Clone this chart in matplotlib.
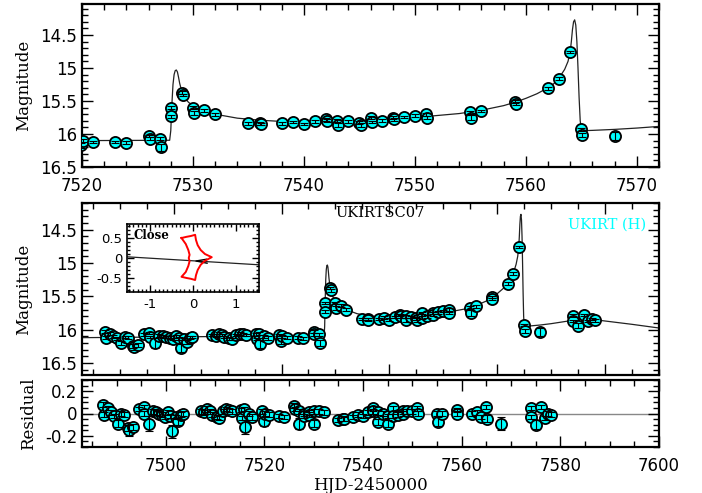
import matplotlib
matplotlib.use("Agg")
import matplotlib.pyplot as plt
from matplotlib.ticker import MultipleLocator, FuncFormatter

# ---------------- data ----------------
t_obs = [7487.2, 7487.4, 7488.2, 7488.8, 7489.4, 7490.3, 7491.0, 7491.5, 7492.4, 7492.6,
         7493.4, 7494.5, 7495.5, 7495.6, 7496.5, 7497.3, 7498.0, 7498.6, 7499.3, 7499.8,
         7500.4, 7500.9, 7501.3, 7502.0, 7502.4, 7503.0, 7503.4, 7507.2, 7507.8, 7508.4,
         7508.9, 7509.4, 7510.3, 7510.8, 7511.6, 7512.3, 7512.9, 7513.5, 7515.2, 7515.4,
         7515.8, 7516.1, 7516.8, 7517.4, 7519.5, 7519.95, 7520.05, 7521.0, 7523.0, 7524.0,
         7526.0, 7526.1, 7527.0, 7527.1, 7528.0, 7528.05, 7529.0, 7529.1, 7530.0, 7530.1,
         7531.0, 7532.0, 7535.0, 7536.0, 7536.1, 7538.0, 7539.0, 7540.0, 7541.0, 7542.0,
         7542.1, 7543.0, 7543.1, 7544.0, 7545.0, 7545.1, 7546.0, 7546.1, 7547.0, 7548.0,
         7548.1, 7549.0, 7550.0, 7551.0, 7551.1, 7555.0, 7555.1, 7556.0, 7559.0, 7559.1,
         7562.0, 7563.0, 7564.0, 7565.0, 7565.1, 7568.0, 7574.0, 7574.1, 7575.0, 7576.0,
         7576.8, 7577.5, 7578.2]
mag_obs = [16.03, 16.12, 16.06, 16.10, 16.13, 16.20, 16.11, 16.12, 16.24, 16.26,
           16.23, 16.07, 16.05, 16.11, 16.20, 16.09, 16.10, 16.11, 16.12, 16.14,
           16.10, 16.13, 16.27, 16.14, 16.18, 16.12, 16.11, 16.08, 16.09, 16.06,
           16.08, 16.11, 16.13, 16.14, 16.08, 16.06, 16.07, 16.08, 16.07, 16.14,
           16.06, 16.22, 16.10, 16.13, 16.08, 16.17, 16.10, 16.12, 16.12, 16.13,
           16.03, 16.07, 16.07, 16.20, 15.60, 15.73, 15.375, 15.41, 15.60, 15.68,
           15.64, 15.70, 15.84, 15.84, 15.85, 15.84, 15.82, 15.85, 15.81, 15.78,
           15.80, 15.80, 15.86, 15.81, 15.83, 15.86, 15.75, 15.82, 15.80, 15.75,
           15.78, 15.74, 15.72, 15.70, 15.75, 15.67, 15.75, 15.65, 15.51, 15.54,
           15.31, 15.16, 14.76, 15.93, 16.02, 16.03, 15.79, 15.87, 15.94, 15.78,
           15.87, 15.84, 15.86]
err_obs = [0.02, 0.02, 0.02, 0.02, 0.02, 0.03, 0.02, 0.02, 0.03, 0.05,
           0.03, 0.02, 0.02, 0.02, 0.07, 0.02, 0.02, 0.02, 0.02, 0.02,
           0.02, 0.02, 0.06, 0.02, 0.03, 0.02, 0.02, 0.02, 0.02, 0.03,
           0.02, 0.02, 0.02, 0.02, 0.02, 0.02, 0.02, 0.02, 0.02, 0.02,
           0.02, 0.06, 0.02, 0.03, 0.02, 0.04, 0.02, 0.02, 0.02, 0.02,
           0.02, 0.02, 0.02, 0.05, 0.02, 0.02, 0.02, 0.02, 0.02, 0.03,
           0.02, 0.02, 0.02, 0.02, 0.02, 0.02, 0.02, 0.02, 0.02, 0.02,
           0.02, 0.02, 0.03, 0.02, 0.02, 0.03, 0.02, 0.02, 0.02, 0.02,
           0.02, 0.02, 0.02, 0.02, 0.02, 0.02, 0.04, 0.02, 0.02, 0.02,
           0.02, 0.02, 0.02, 0.02, 0.03, 0.06, 0.02, 0.02, 0.04, 0.02,
           0.02, 0.02, 0.02]
res_obs = [0.08, -0.01, 0.05, 0.01, -0.02, -0.09, 0.00, -0.01, -0.13, -0.15,
           -0.12, 0.04, 0.06, 0.00, -0.09, 0.02, 0.01, 0.00, -0.01, -0.03,
           0.01, -0.02, -0.16, -0.03, -0.07, -0.01, 0.00, 0.02, 0.01, 0.04,
           0.02, -0.01, -0.03, -0.04, 0.02, 0.04, 0.03, 0.02, 0.03, -0.04,
           0.04, -0.12, 0.00, -0.03, 0.02, -0.07, 0.00, -0.01, -0.02, -0.03,
           0.07, 0.04, 0.02, -0.09, 0.00, -0.02, 0.01, -0.01, 0.02, -0.09,
           0.02, 0.01, -0.06, -0.045, -0.05, -0.03, -0.01, -0.02, 0.01, 0.045,
           0.02, 0.01, -0.075, 0.00, -0.02, -0.09, 0.045, -0.02, -0.01, 0.02,
           0.00, 0.02, 0.02, 0.045, 0.00, 0.00, -0.075, 0.00, 0.03, 0.00,
           0.00, 0.01, -0.03, 0.06, -0.045, -0.09, 0.05, -0.03, -0.10, 0.06,
           -0.04, 0.00, -0.01]

model_t = [7483, 7490, 7500, 7510, 7520, 7527.9, 7528.0, 7528.1, 7528.2, 7528.3,
           7528.4, 7528.5, 7528.6, 7528.7, 7528.8, 7529.0, 7529.3, 7529.6, 7530.0, 7530.5,
           7531, 7532, 7533, 7534, 7536, 7538, 7540, 7542, 7545, 7548,
           7550, 7552, 7554, 7556, 7558, 7559, 7560, 7561, 7562, 7562.5,
           7563, 7563.5, 7563.8, 7564.0, 7564.1, 7564.2, 7564.3, 7564.4, 7564.5, 7564.6,
           7564.7, 7564.8, 7564.9, 7565.0, 7565.1, 7566, 7568, 7570, 7572, 7574,
           7576, 7578, 7580, 7585, 7590]
model_mag = [16.12, 16.115, 16.11, 16.10, 16.10, 16.095, 15.95, 15.55, 15.25, 15.10,
             15.04, 15.03, 15.06, 15.14, 15.23, 15.36, 15.46, 15.52, 15.57, 15.62,
             15.65, 15.70, 15.73, 15.76, 15.79, 15.81, 15.815, 15.81, 15.80, 15.77,
             15.75, 15.72, 15.69, 15.64, 15.57, 15.52, 15.46, 15.39, 15.30, 15.24,
             15.15, 15.02, 14.90, 14.75, 14.60, 14.42, 14.30, 14.27, 14.35, 14.60,
             15.00, 15.45, 15.80, 15.93, 15.95, 15.945, 15.93, 15.91, 15.885, 15.86,
             15.845, 15.85, 15.87, 15.92, 15.975]

caustic_x = [-0.27, -0.15, -0.05, 0.05, 0.07, 0.11, 0.18, 0.28, 0.44, 0.28,
             0.18, 0.11, 0.07, 0.05, -0.05, -0.15, -0.27, -0.17, -0.11, -0.08,
             -0.10, -0.08, -0.11, -0.17, -0.27]
caustic_y = [0.50, 0.53, 0.55, 0.58, 0.45, 0.32, 0.20, 0.10, 0.02, -0.07,
             -0.17, -0.30, -0.43, -0.55, -0.52, -0.50, -0.47, -0.35, -0.20, -0.08,
             0.00, 0.08, 0.20, 0.35, 0.50]
traj_x = [-1.55, 1.55]
traj_y = [0.03, -0.17]
arrow_x = [0.32, 0.07, 0.33]
arrow_y = [-0.03, -0.075, -0.13]

# ---------------- styling helpers ----------------
W, H = 702, 493
fig = plt.figure(figsize=(W / 100, H / 100), dpi=100)

def frac(x0, y0, x1, y1):
    return [x0 / W, 1 - y1 / H, (x1 - x0) / W, (y1 - y0) / H]

gfmt = FuncFormatter(lambda v, p: "%g" % (round(v, 6) + 0.0))

def style(ax, lw=1.6, maj=8, mnr=4, size=12, xpad=7):
    for s in ax.spines.values():
        s.set_linewidth(lw)
    ax.tick_params(which="both", direction="in", top=True, right=True,
                   width=1.0, labelsize=size)
    ax.tick_params(which="major", length=maj)
    ax.tick_params(which="minor", length=mnr)
    ax.tick_params(axis="x", pad=xpad)

mk = dict(marker="o", ls="none", ms=8, mfc="#00ffff", mec="black", mew=1.3)

def data(ax, y):
    ax.plot(t_obs, y, zorder=3, **mk)
    ax.errorbar(t_obs, y, yerr=err_obs, fmt="none", ecolor="black",
                elinewidth=0.8, capsize=3, capthick=0.8, zorder=4)

sfont = "DejaVu Serif"

# ---------------- top panel ----------------
ax1 = fig.add_axes(frac(82, 4, 659, 167))
ax1.plot(model_t, model_mag, color="#222222", lw=0.9, zorder=2)
data(ax1, mag_obs)
ax1.set_xlim(7520, 7572)
ax1.set_ylim(16.5, 14.03)
ax1.xaxis.set_major_locator(MultipleLocator(10))
ax1.xaxis.set_minor_locator(MultipleLocator(2))
ax1.yaxis.set_major_locator(MultipleLocator(0.5))
ax1.yaxis.set_minor_locator(MultipleLocator(0.1))
ax1.yaxis.set_major_formatter(gfmt)
style(ax1)
ax1.set_ylabel("Magnitude", fontsize=12, family=sfont, labelpad=6)

# ---------------- middle panel ----------------
ax2 = fig.add_axes(frac(82, 203, 659, 375))
ax2.plot(model_t, model_mag, color="#222222", lw=0.9, zorder=2)
data(ax2, mag_obs)
ax2.set_xlim(7483, 7590)
ax2.set_ylim(16.68, 14.1)
ax2.xaxis.set_major_locator(MultipleLocator(20))
ax2.xaxis.set_minor_locator(MultipleLocator(5))
ax2.yaxis.set_major_locator(MultipleLocator(0.5))
ax2.yaxis.set_minor_locator(MultipleLocator(0.1))
ax2.yaxis.set_major_formatter(gfmt)
ax2.set_xticklabels([])
style(ax2)
ax2.set_ylabel("Magnitude", fontsize=12, family=sfont, labelpad=6)
ax2.text(380 / W, 1 - 213 / H, "UKIRTSC07", transform=fig.transFigure,
         ha="center", va="center", fontsize=10.5, family=sfont)
ax2.text(607 / W, 1 - 225 / H, "UKIRT (H)", transform=fig.transFigure,
         ha="center", va="center", fontsize=10.5, family=sfont, color="#00ffff")

# ---------------- inset ----------------
ax4 = fig.add_axes(frac(127, 224, 259, 292))
ax4.plot(traj_x, traj_y, color="#222222", lw=0.9)
ax4.plot(arrow_x, arrow_y, color="black", lw=1.0)
ax4.plot(caustic_x, caustic_y, color="red", lw=1.4)
ax4.set_xlim(-1.55, 1.55)
ax4.set_ylim(-0.85, 0.85)
ax4.xaxis.set_major_locator(MultipleLocator(1))
ax4.xaxis.set_minor_locator(MultipleLocator(0.1))
ax4.yaxis.set_major_locator(MultipleLocator(0.5))
ax4.yaxis.set_minor_locator(MultipleLocator(0.1))
ax4.xaxis.set_major_formatter(gfmt)
ax4.yaxis.set_major_formatter(gfmt)
style(ax4, lw=1.2, maj=5, mnr=2.5, size=9.5, xpad=4)
ax4.text(0.05, 0.92, "Close", transform=ax4.transAxes, ha="left", va="top",
         fontsize=8.5, family=sfont, fontweight="bold")

# ---------------- residual panel ----------------
ax3 = fig.add_axes(frac(82, 380, 659, 447))
ax3.axhline(0, color="#888888", lw=1.0, zorder=1)
data(ax3, res_obs)
ax3.set_xlim(7483, 7600)
ax3.set_ylim(-0.3, 0.3)
ax3.xaxis.set_major_locator(MultipleLocator(20))
ax3.xaxis.set_minor_locator(MultipleLocator(5))
ax3.yaxis.set_major_locator(MultipleLocator(0.2))
ax3.yaxis.set_minor_locator(MultipleLocator(0.05))
ax3.yaxis.set_major_formatter(gfmt)
style(ax3)
ax3.set_ylabel("Residual", fontsize=12, family=sfont, labelpad=6)
ax3.set_xlabel("HJD-2450000", fontsize=12, family=sfont, labelpad=2)

fig.savefig("out.png", dpi=100)
